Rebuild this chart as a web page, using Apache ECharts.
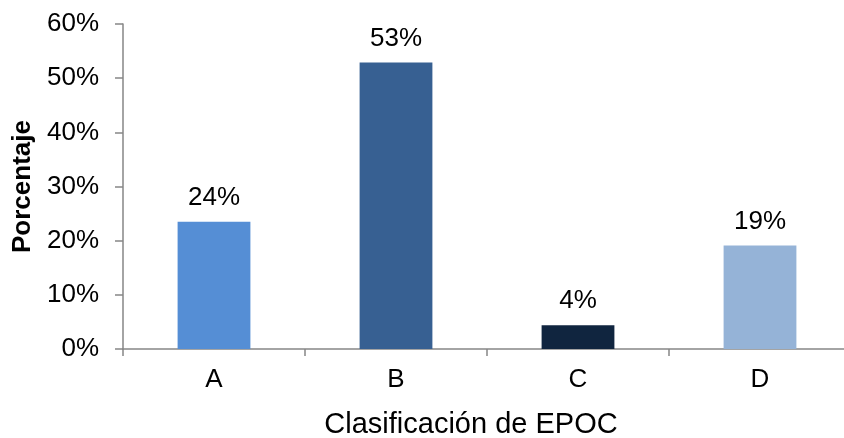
<!DOCTYPE html>
<html>
<head>
<meta charset="utf-8">
<script src="https://cdn.jsdelivr.net/npm/echarts@6/dist/echarts.min.js"></script>
<style>
  html, body { margin: 0; padding: 0; background: #fff; }
  #main { width: 844px; height: 438px; }
</style>
</head>
<body>
<div id="main"></div>
<script>
var categories = ['A', 'B', 'C', 'D']
var values = [23.5, 52.9, 4.4, 19.1]
var barColors = ['#558ED5', '#376092', '#10253F', '#95B3D7']
var yTicks = [0, 10, 20, 30, 40, 50, 60]

var font = '"Liberation Sans", Arial, sans-serif'

var chart = echarts.init(document.getElementById('main'))
chart.setOption({
    animation: false,
    grid: {
        left: 123,
        top: 24,
        height: 325,
        width: 728,
        containLabel: false,
        outerBoundsMode: 'none'
    },
    xAxis: {
        type: 'category',
        data: categories,
        name: 'Clasificación de EPOC',
        nameLocation: 'middle',
        nameGap: 61,
        nameTextStyle: { fontFamily: font, fontSize: 29, color: '#000', padding: [0, 32, 0, 0] },
        axisLine: { lineStyle: { color: '#868686', width: 1.5 } },
        axisTick: { show: true, length: 7, lineStyle: { color: '#868686', width: 1.5 } },
        axisLabel: { fontFamily: font, fontSize: 26, color: '#000', margin: 18 }
    },
    yAxis: {
        type: 'value',
        min: yTicks[0],
        max: yTicks[yTicks.length - 1],
        interval: 10,
        name: 'Porcentaje',
        nameLocation: 'middle',
        nameGap: 85,
        nameTextStyle: { fontFamily: font, fontSize: 26, fontWeight: 'bold', color: '#000' },
        axisLine: { show: true, lineStyle: { color: '#868686', width: 1.5 } },
        axisTick: { show: true, length: 8, lineStyle: { color: '#868686', width: 1.5 } },
        splitLine: { show: false },
        axisLabel: {
            fontFamily: font, fontSize: 26, color: '#000', margin: 24,
            formatter: '{value}%'
        }
    },
    series: [{
        type: 'bar',
        barWidth: '40%',
        data: values.map(function (v, i) {
            return { value: v, itemStyle: { color: barColors[i] } }
        }),
        label: {
            show: true,
            position: 'top',
            distance: 11,
            fontFamily: font,
            fontSize: 26,
            color: '#000',
            formatter: function (p) { return Math.round(p.value) + '%' }
        }
    }]
})
</script>
</body>
</html>
